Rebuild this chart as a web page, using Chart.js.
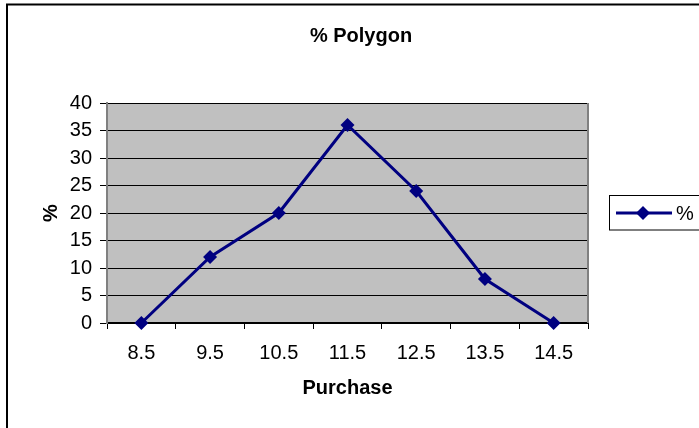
<!DOCTYPE html>
<html>
<head>
<meta charset="utf-8">
<script src="https://cdn.jsdelivr.net/npm/chart.js@4/dist/chart.umd.min.js"></script>
<style>
  html, body { margin: 0; padding: 0; background: #ffffff; }
  #wrap { width: 699px; height: 428px; position: relative; }
</style>
</head>
<body>
<div id="wrap"><canvas id="c" width="699" height="428"></canvas></div>
<script>
const categories = ["8.5", "9.5", "10.5", "11.5", "12.5", "13.5", "14.5"];
const percentValues = [0, 12, 20, 36, 24, 8, 0];
const seriesName = "%";
const chartTitle = "% Polygon";
const xAxisTitle = "Purchase";
const yAxisTitle = "%";

const FONT = "'Liberation Sans', Arial, sans-serif";
const NAVY = "#000080";

const framePlugin = {
  id: 'frame',
  beforeDraw(chart) {
    const {ctx, chartArea: a} = chart;
    ctx.save();
    ctx.fillStyle = '#ffffff';
    ctx.fillRect(0, 0, chart.width, chart.height);
    ctx.fillStyle = '#C0C0C0';
    ctx.fillRect(a.left, a.top, a.right - a.left, a.bottom - a.top);
    ctx.restore();
  },
  afterDraw(chart) {
    const {ctx, chartArea: a} = chart;
    ctx.save();
    ctx.strokeStyle = '#808080';
    ctx.lineWidth = 2;
    ctx.beginPath();
    ctx.moveTo(a.right, a.top);
    ctx.lineTo(a.right, a.bottom);
    ctx.stroke();
    ctx.strokeStyle = '#000000';
    ctx.lineWidth = 2;
    ctx.beginPath();
    ctx.moveTo(7, chart.height + 2);
    ctx.lineTo(7, 4.5);
    ctx.lineTo(chart.width + 2, 4.5);
    ctx.stroke();
    ctx.fillStyle = '#000000';
    ctx.font = "bold 20px " + FONT;
    ctx.textAlign = 'center';
    ctx.textBaseline = 'alphabetic';
    ctx.fillText(chartTitle, 361, 42);
    const ds = chart.data.datasets[0];
    ctx.strokeStyle = '#000000';
    ctx.lineWidth = 1;
    ctx.strokeRect(609.5, 195.5, 100, 34.5);
    const ly = 213;
    ctx.strokeStyle = ds.borderColor;
    ctx.lineWidth = ds.borderWidth;
    ctx.beginPath();
    ctx.moveTo(616, ly);
    ctx.lineTo(672, ly);
    ctx.stroke();
    ctx.fillStyle = ds.pointBackgroundColor;
    ctx.beginPath();
    const r = ds.pointRadius;
    ctx.moveTo(643, ly - r);
    ctx.lineTo(643 + r, ly);
    ctx.lineTo(643, ly + r);
    ctx.lineTo(643 - r, ly);
    ctx.closePath();
    ctx.fill();
    ctx.fillStyle = '#000000';
    ctx.font = "20px " + FONT;
    ctx.textAlign = 'left';
    ctx.textBaseline = 'middle';
    ctx.fillText(ds.label, 676, ly + 1);
    ctx.restore();
  }
};

new Chart(document.getElementById('c'), {
  type: 'line',
  data: {
    labels: categories,
    datasets: [{
      label: seriesName,
      data: percentValues,
      borderColor: NAVY,
      backgroundColor: NAVY,
      pointBackgroundColor: NAVY,
      pointBorderColor: NAVY,
      borderWidth: 3,
      pointStyle: 'rectRot',
      pointRadius: 7,
      pointBorderWidth: 0,
      tension: 0,
      fill: false,
      clip: false
    }]
  },
  options: {
    responsive: false,
    animation: false,
    devicePixelRatio: 1,
    layout: { padding: { top: 103, left: 7, right: 111, bottom: 0 } },
    plugins: {
      legend: { display: false },
      title: { display: false },
      tooltip: { enabled: false }
    },
    scales: {
      x: {
        type: 'category',
        offset: true,
        afterFit(s) { s.height = 105; s.paddingLeft = 0; s.paddingRight = 0; },
        grid: {
          offset: true,
          drawOnChartArea: false,
          drawTicks: true,
          tickLength: 6,
          color: '#000000',
          lineWidth: 1
        },
        border: { display: true, color: '#000000', width: 2 },
        ticks: {
          color: '#000000',
          font: { family: FONT, size: 20 },
          padding: 12,
          maxRotation: 0,
          autoSkip: false
        },
        title: {
          display: true,
          text: xAxisTitle,
          color: '#000000',
          font: { family: FONT, size: 20, weight: 'bold' },
          padding: { top: 0, bottom: 28 }
        }
      },
      y: {
        min: 0,
        max: 40,
        afterFit(s) { s.width = 100; s.paddingTop = 0; s.paddingBottom = 0; },
        grid: {
          drawOnChartArea: true,
          drawTicks: true,
          tickLength: 7,
          color: '#000000',
          lineWidth: 1
        },
        border: { display: true, color: '#808080', width: 2 },
        ticks: {
          stepSize: 5,
          color: '#000000',
          font: { family: FONT, size: 20 },
          padding: 8
        },
        title: {
          display: true,
          text: yAxisTitle,
          color: '#000000',
          font: { family: FONT, size: 20, weight: 'bold' },
          padding: { top: 32, bottom: 0 }
        }
      }
    }
  },
  plugins: [framePlugin]
});
</script>
</body>
</html>
